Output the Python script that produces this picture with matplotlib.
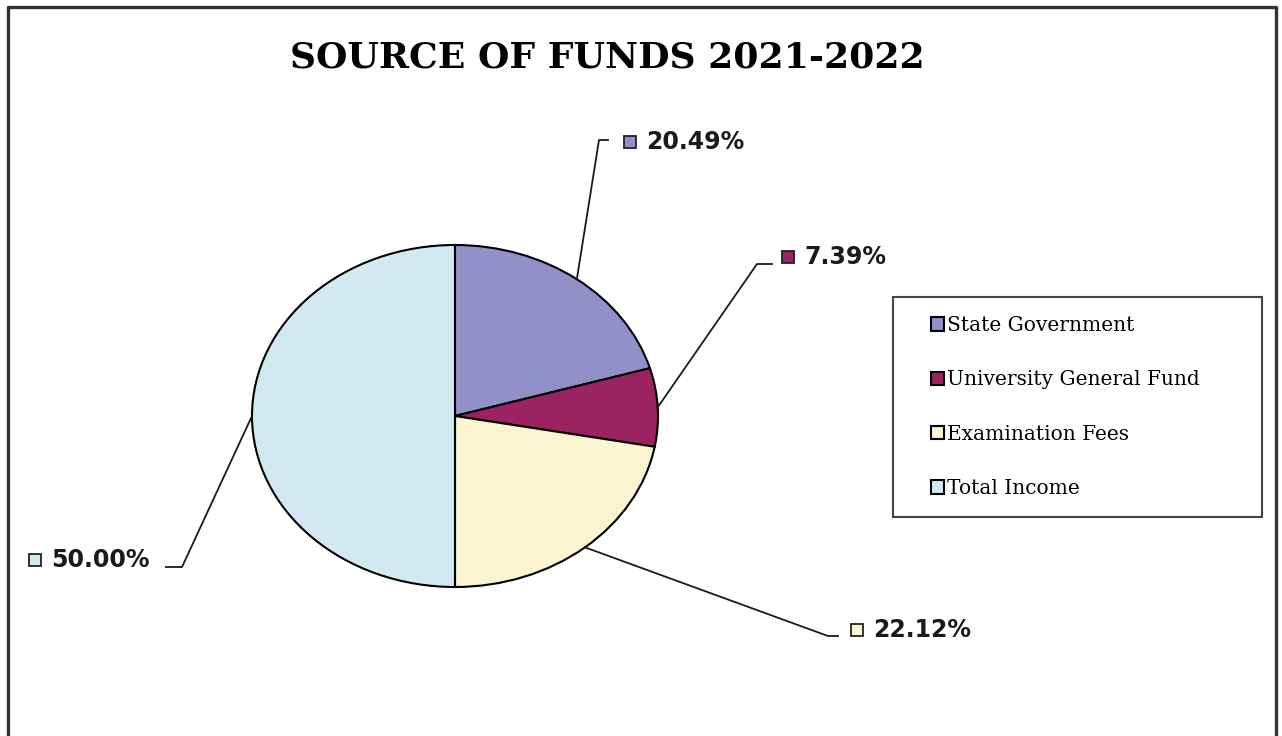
import matplotlib.pyplot as plt
from matplotlib.lines import Line2D
from matplotlib.patches import Rectangle, Wedge
from matplotlib.legend_handler import HandlerPatch
import numpy as np

W, H = 1282, 736

sources = ['State Government', 'University General Fund', 'Examination Fees', 'Total Income']
shares = [20.49, 7.39, 22.12, 50.00]
colors = ['#9190c8', '#9b2361', '#faf5d0', '#d2e9f2']

# label layout in pixels from top-left: leader elbow, leader end, marker centre
elbows = [(599, 140), (757, 264), (828, 636), (182, 567)]
ends = [(608, 140), (772, 264), (838, 636), (166, 567)]
markers = [(630, 142), (788, 257), (857, 630), (35, 560)]


def fx(x, y):
    return (x / W, 1 - y / H)


def square_handle(legend, orig_handle, xdescent, ydescent, width, height, fontsize):
    # small square pushed to the right end of the handle box
    return Rectangle((-xdescent + width - height, -ydescent), height, height)


fig = plt.figure(figsize=(W / 100, H / 100), dpi=100)

# outer frame (open at the bottom, as in the scan)
frame = Line2D([8 / W, 8 / W, 1276 / W, 1276 / W], [0, 1 - 7 / H, 1 - 7 / H, 0],
               transform=fig.transFigure, color='#333333', lw=2.4)
fig.add_artist(frame)

fig.text(*fx(607, 57), 'SOURCE OF FUNDS 2021-2022', ha='center', va='center',
         fontsize=26, fontweight='bold', family='DejaVu Serif')

ax = fig.add_axes([252 / W, 1 - 587 / H, 406 / W, 342 / H])
wedges, _ = ax.pie(shares, colors=colors, startangle=90, counterclock=False,
                   wedgeprops=dict(edgecolor='black', linewidth=1.5))
ax.set_aspect('auto')
ax.set_xlim(-1.0, 1.0)
ax.set_ylim(-1.0, 1.0)

to_fig = ax.transData + fig.transFigure.inverted()
for w, val, c, el, en, mk in zip(wedges, shares, colors, elbows, ends, markers):
    mid = np.deg2rad((w.theta1 + w.theta2) / 2)
    ex, ey = to_fig.transform((np.cos(mid), np.sin(mid)))
    p1 = fx(*el)
    p2 = fx(*en)
    fig.add_artist(Line2D([ex, p1[0], p2[0]], [ey, p1[1], p2[1]],
                          transform=fig.transFigure, color='#1a1a1a', lw=1.3))
    m = fx(*mk)
    fig.add_artist(Line2D([m[0]], [m[1]], marker='s', markersize=8.5, mfc=c, mec='#222222',
                          mew=1.3, transform=fig.transFigure))
    fig.text(*fx(mk[0] + 16, mk[1]), f'{val:.2f}%', ha='left', va='center',
             fontsize=17, fontweight='bold', family='DejaVu Sans', color='#1a1a1a')

leg = fig.legend(wedges, sources, loc='upper left',
                 bbox_to_anchor=(893 / W, 1 - 511 / H, (1262 - 893) / W, 214 / H),
                 mode='expand', fancybox=False, framealpha=1, edgecolor='#444444',
                 prop=dict(family='DejaVu Serif', size=14.5), borderpad=0.95,
                 labelspacing=1.75, handlelength=1.6, handleheight=0.65,
                 handletextpad=0.15, borderaxespad=0,
                 handler_map={Wedge: HandlerPatch(patch_func=square_handle)})
leg.get_frame().set_linewidth(1.5)

fig.savefig('out.png', dpi=100)
